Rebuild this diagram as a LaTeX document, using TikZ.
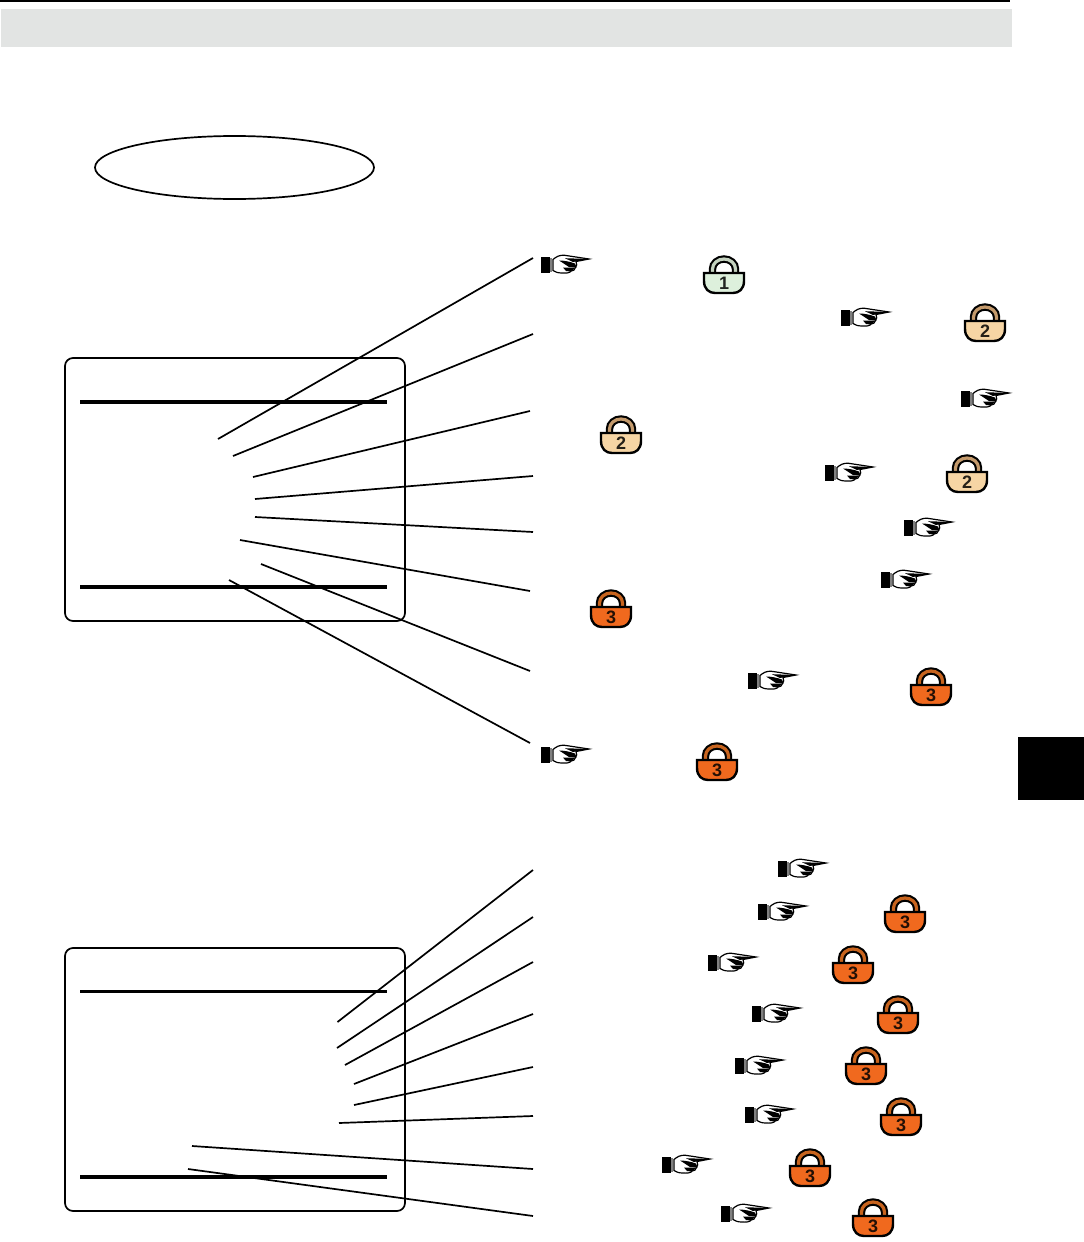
\documentclass[tikz,border=0pt]{standalone}
\usepackage{fontspec}
\setmainfont{Liberation Sans}
\definecolor{barcol}{HTML}{E2E4E3}
\definecolor{bodyA}{HTML}{DDF0DC}
\definecolor{archA}{HTML}{C4D2BF}
\definecolor{bodyB}{HTML}{F6D5A4}
\definecolor{archB}{HTML}{C49A6C}
\definecolor{bodyC}{HTML}{F0691E}
\definecolor{archC}{HTML}{C8641E}
\tikzset{
screen/.style={draw,line width=1.7pt,rounded corners=8pt,inner sep=0pt,minimum width=340pt,minimum height=263pt},
rule/.style={line width=3.4pt},
leader/.style={line width=1.7pt},
pics/hand/.style={code={
  \fill[black](0.7,-7.3)rectangle(9.5,8.7);
  \fill[black!50](9.5,-6.5)rectangle(12,8.2);
  \draw[fill=white,line width=1.2pt](13,-4.5)..controls(16,-7)and(19,-9)..(24,-8.8)
    --(49,-5)--(36,-2.5)..controls(37,0)and(37,2)..(35.5,3.5)
    ..controls(35,6)and(33,7)..(31,7)..controls(30,9)and(26,9.3)..(22,9)
    ..controls(18,9)and(15,8)..(13,6.5)--cycle;
  \fill[black](25,-5.8)--(49,-5)--(33,-2)--cycle;
  \fill[black](19,-3.5)..controls(25,-3.5)and(31,-2)..(35,-0.5)--(36.5,3.5)--(29,3)..controls(26,1)and(23,-1)..(19,-3.5)--cycle;
  \fill[black](23,3.5)--(35.5,3.5)--(31,7.5)--(26,7)--cycle;
}},
pics/lock/.style n args={3}{code={
  \draw[black,line width=7.4pt](-11.5,0)--(-11.5,-6)arc(180:360:11.5 and 10)--(11.5,0);
  \draw[#3,line width=3.2pt](-11.5,0)--(-11.5,-6)arc(180:360:11.5 and 10)--(11.5,0);
  \draw[black,fill=#2,line width=2.4pt](-20,-2)--(20,-2)--(20,6)..controls(20,14)and(15,18)..(9,18)
    --(-9,18)..controls(-15,18)and(-20,14)..(-20,6)--cycle;
  \node[inner sep=0pt,text=black!85!#2,font=\bfseries\fontsize{18}{18}\selectfont]at(0,8){#1};
}},
}
\begin{document}
\begin{tikzpicture}[x=1pt,y=-1pt]
\useasboundingbox(0,0)rectangle(1084,1242);
\fill[black](0,0)rectangle(1010,1.5);
\fill[barcol](1,9)rectangle(1012,46.5);
\fill[black](1018,737)rectangle(1084,800);
\draw[line width=1.7pt](234.5,167.5)ellipse(139.5 and 31.5);
\node[screen](top) at(235,489.5){};
\node[screen](bot) at(235,1079.5){};
\draw[rule](80,402)--(387,402);
\draw[rule](80,587)--(387,587);
\draw[rule](80,991.5)--(387,991.5);
\draw[rule](80,1177)--(387,1177);
% leaders, upper screen then lower screen
\foreach \i/\xa/\ya/\xb/\yb in {
1/218/439/533/258,2/233/456/533/334,3/253/477/530/411,4/255/499/533/476,
5/255/517/533/532,6/240/540/530/591,7/261/564/530/671,8/229/580/530/743,
9/337.5/1022/533/870,10/337/1048/533/917,11/345/1065/533/962,12/354/1084/533/1014,
13/354/1105/533/1067,14/339/1123/533/1116,15/192/1146/533/1169,16/188/1169/533/1216}{
\coordinate(from\i)at(\xa,\ya);
\coordinate(to\i)at(\xb,\yb);
\draw[leader](from\i)--(to\i);
}
% hands
\foreach \x/\y in {540/264,840/317,960/398,824/472,903/527,880/579,747/680,540/754,
777/868,757/911,707/962,751/1013,734/1065,744/1114,661/1164,720/1213}
\pic at(\x,\y){hand};
% locks
\pic at(724,275){lock={1}{bodyA}{archA}};
\foreach \x/\y in {985/323,621/435,967/474}
\pic at(\x,\y){lock={2}{bodyB}{archB}};
\foreach \x/\y in {611/609,931/687,717/762,905/914,853/965,898/1015,866/1066,901/1117,810/1168,873/1218}
\pic at(\x,\y){lock={3}{bodyC}{archC}};
\end{tikzpicture}
\end{document}
